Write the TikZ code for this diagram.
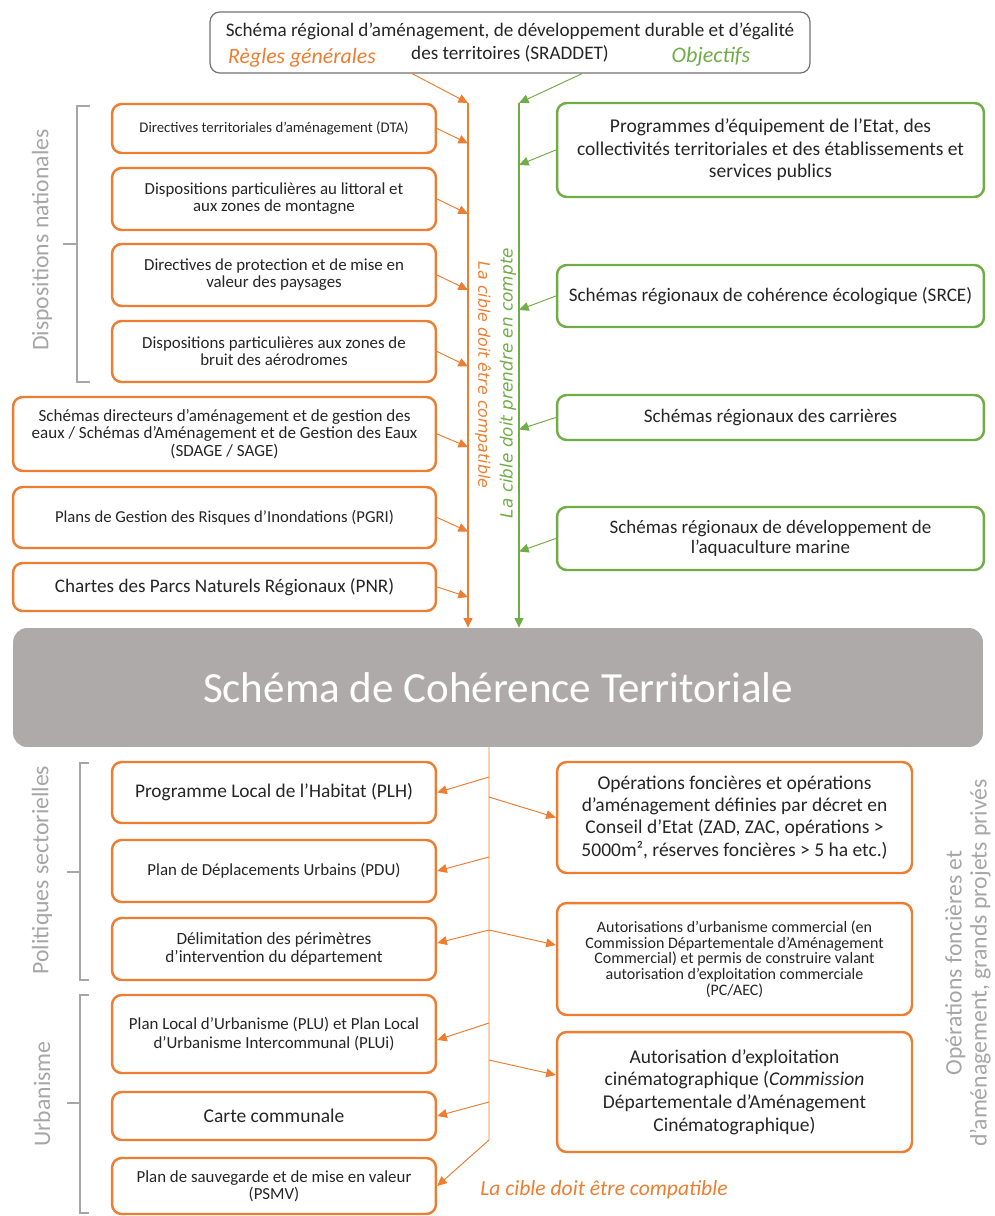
\documentclass[tikz,border=0pt]{standalone}
\usepackage{fontspec}
\setmainfont{Carlito}
\newfontfamily\largefont{DejaVu Sans}
\usetikzlibrary{arrows.meta,calc}

\definecolor{orangeS}{HTML}{ED7D31}
\definecolor{vertS}{HTML}{70AD47}
\definecolor{grisS}{HTML}{AEAAAA}
\definecolor{texteS}{HTML}{A6A6A6}

\tikzset{
  boite/.style={draw=orangeS, line width=1.4pt, rounded corners=5.5pt, fill=white,
    align=center, inner sep=1pt, text=black!85},
  boiteV/.style={boite, draw=vertS},
  fl/.style={line width=0.55pt, -{Triangle[length=5.5pt,width=5pt]}},
  axe/.style={line width=0.9pt, -{Triangle[length=5.5pt,width=5pt]}},
  accolade/.style={draw=texteS, line width=0.6pt},
  titre/.style={text=texteS, font=\fontsize{13.5}{14.2}\selectfont, align=center},
  fs/.style 2 args={font=\fontsize{#1}{#2}\selectfont}
}

\begin{document}
\begin{tikzpicture}[x=0.02cm, y=-0.02cm]

  \useasboundingbox (0,0) rectangle (994,1216);

  % SRADDET
  \node[boite, draw=black!55, line width=0.7pt, minimum width=12cm, minimum height=1.22cm,
        fs={10.9}{12.8}, inner sep=0pt] (sraddet) at (510,42.5)
        {Schéma régional d'aménagement, de développement durable et d'égalité\\des territoires (SRADDET)};
  \node[text=orangeS, font=\fontsize{12.4}{13}\itshape] (regles) at (302,58) {Règles générales};
  \node[text=vertS, font=\fontsize{12.6}{13}\itshape] (objectifs) at (711,57) {Objectifs};

  \coordinate (otop) at (468,103);
  \coordinate (vtop) at (519,103);

  % colonne gauche
  \node[boite, minimum width=6.48cm, minimum height=0.98cm, fs={8.4}{9.6}] (dta) at (274,128.5)
        {Directives territoriales d'aménagement (DTA)};
  \node[boite, minimum width=6.48cm, minimum height=1.24cm, fs={9.6}{9.6}] (lit) at (274,199)
        {Dispositions particulières au littoral et\\aux zones de montagne};
  \node[boite, minimum width=6.48cm, minimum height=1.24cm, fs={9.6}{9.6}] (dpp) at (274,275)
        {Directives de protection et de mise en\\valeur des paysages};
  \node[boite, minimum width=6.48cm, minimum height=1.22cm, fs={9.6}{9.6}] (bruit) at (274,351.5)
        {Dispositions particulières aux zones de\\bruit des aérodromes};
  \node[boite, minimum width=8.46cm, minimum height=1.48cm, fs={9.7}{9.9}] (sdage) at (224.5,434)
        {Schémas directeurs d'aménagement et de gestion des\\eaux / Schémas d'Aménagement et de Gestion des Eaux\\(SDAGE / SAGE)};
  \node[boite, minimum width=8.46cm, minimum height=1.22cm, fs={9.5}{10}] (pgri) at (224.5,517.5)
        {Plans de Gestion des Risques d'Inondations (PGRI)};
  \node[boite, minimum width=8.46cm, minimum height=0.96cm, fs={10.9}{12}] (pnr) at (224.5,587)
        {Chartes des Parcs Naturels Régionaux (PNR)};

  % colonne droite
  \node[boiteV, minimum width=8.54cm, minimum height=1.88cm, fs={11.1}{12.8}] (prog) at (770.5,150)
        {Programmes d'équipement de l'Etat, des\\collectivités territoriales et des établissements et\\services publics};
  \node[boiteV, minimum width=8.54cm, minimum height=1.24cm, fs={10.9}{12}] (srce) at (770.5,296)
        {Schémas régionaux de cohérence écologique (SRCE)};
  \node[boiteV, minimum width=8.54cm, minimum height=0.9cm, fs={10.9}{12}] (carr) at (770.5,417.5)
        {Schémas régionaux des carrières};
  \node[boiteV, minimum width=8.54cm, minimum height=1.26cm, fs={10.8}{11.3}] (aqua) at (770.5,538.5)
        {Schémas régionaux de développement de\\l'aquaculture marine};

  % SCoT
  \node[fill=grisS, rounded corners=8pt, minimum width=19.4cm, minimum height=2.38cm,
        text=white, font=\fontsize{24.5}{28}\selectfont] (scot) at (498,687.5)
        {Schéma de Cohérence Territoriale};

  \draw[axe, orangeS] (otop) -- (otop |- scot.north);
  \draw[axe, vertS] (vtop) -- (vtop |- scot.north);
  \draw[fl, orangeS] ($(sraddet.south west)!0.337!(sraddet.south east)$) -- (otop);
  \draw[fl, vertS] ($(sraddet.south west)!0.62!(sraddet.south east)$) -- (vtop);

  \draw[fl, orangeS] (dta.east) -- ($(dta.east -| otop)+(0,15)$);
  \draw[fl, orangeS] (lit.east) -- ($(lit.east -| otop)+(0,15)$);
  \draw[fl, orangeS] (dpp.east) -- ($(dpp.east -| otop)+(0,15)$);
  \draw[fl, orangeS] (bruit.east) -- ($(bruit.east -| otop)+(0,15)$);
  \draw[fl, orangeS] (sdage.east) -- ($(sdage.east -| otop)+(0,13)$);
  \draw[fl, orangeS] (pgri.east) -- ($(pgri.east -| otop)+(0,14)$);
  \draw[fl, orangeS] (pnr.east) -- ($(pnr.east -| otop)+(0,10)$);

  \draw[fl, vertS] (prog.west) -- ($(prog.west -| vtop)+(0,15)$);
  \draw[fl, vertS] (srce.west) -- ($(srce.west -| vtop)+(0,14)$);
  \draw[fl, vertS] (carr.west) -- ($(carr.west -| vtop)+(0,12)$);
  \draw[fl, vertS] (aqua.west) -- ($(aqua.west -| vtop)+(0,13)$);

  \node[rotate=-90, text=orangeS, font=\largefont\fontsize{9}{9}\itshape] (compat) at (483,375)
        {La cible doit être compatible};
  \node[rotate=90, text=vertS, font=\largefont\fontsize{9.6}{9}\itshape] (compte) at (508,383)
        {La cible doit prendre en compte};

  \draw[accolade] (90,106) -- (77,106) -- (77,382) -- (90,382);
  \draw[accolade] (77,244) -- (63,244);
  \node[titre, rotate=90] (nat) at (42,240) {Dispositions nationales};

  % partie basse
  \node[boite, minimum width=6.48cm, minimum height=1.22cm, fs={11}{12}] (plh) at (274,792.5)
        {Programme Local de l'Habitat (PLH)};
  \node[boite, minimum width=6.48cm, minimum height=1.24cm, fs={9.6}{10}] (pdu) at (274,871)
        {Plan de Déplacements Urbains (PDU)};
  \node[boite, minimum width=6.48cm, minimum height=1.24cm, fs={9.8}{10.4}] (delim) at (274,949)
        {Délimitation des périmètres\\d'intervention du département};
  \node[boite, minimum width=6.48cm, minimum height=1.56cm, fs={9.6}{10.4}] (plu) at (274,1034)
        {Plan Local d'Urbanisme (PLU) et Plan Local\\d'Urbanisme Intercommunal (PLUi)};
  \node[boite, minimum width=6.48cm, minimum height=0.96cm, fs={11.1}{12}] (carte) at (274,1116)
        {Carte communale};
  \node[boite, minimum width=6.48cm, minimum height=1.12cm, fs={9.6}{9.5}] (psmv) at (274,1186)
        {Plan de sauvegarde et de mise en valeur\\(PSMV)};

  \node[boite, minimum width=7.1cm, minimum height=2.22cm, fs={11.1}{12.6}] (ops) at (734.5,817.5)
        {Opérations foncières et opérations\\d'aménagement définies par décret en\\Conseil d'Etat (ZAD, ZAC, opérations >\\5000m², réserves foncières > 5 ha etc.)};
  \node[boite, minimum width=7.1cm, minimum height=2.24cm, fs={9.1}{8.9}] (auc) at (734.5,959)
        {Autorisations d'urbanisme commercial (en\\Commission Départementale d'Aménagement\\Commercial) et permis de construire valant\\autorisation d'exploitation commerciale\\(PC/AEC)};
  \node[boite, minimum width=7.1cm, minimum height=2.4cm, fs={11.1}{12.9}] (cine) at (734.5,1092)
        {Autorisation d'exploitation\\cinématographique (\textit{Commission}\\Départementale d'Aménagement\\Cinématographique)};

  \coordinate (obas) at (489,747);
  \coordinate (coude) at (489,1140);
  \draw[fl, orangeS] (obas) -- (coude) -- (psmv.east);

  \draw[fl, orangeS] (obas |- 0,777) -- (plh.east);
  \draw[fl, orangeS] (obas |- 0,797) -- (ops.west);
  \draw[fl, orangeS] (obas |- 0,857) -- (pdu.east);
  \draw[fl, orangeS] (obas |- 0,930) -- ($(delim.east)+(0,-6)$);
  \draw[fl, orangeS] (obas |- 0,930) -- ($(auc.west)+(0,-14)$);
  \draw[fl, orangeS] (obas |- 0,1023) -- ($(plu.east)+(0,6)$);
  \draw[fl, orangeS] (obas |- 0,1060) -- ($(cine.west)+(0,-17)$);
  \draw[fl, orangeS] (obas |- 0,1102) -- (carte.east);

  \node[text=orangeS, font=\fontsize{12.3}{13}\itshape] (compat2) at (604,1190)
        {La cible doit être compatible};

  \draw[accolade] (89,763) -- (80,763) -- (80,980) -- (89,980);
  \draw[accolade] (80,872) -- (67,872);
  \node[titre, rotate=90] (secto) at (42,870) {Politiques sectorielles};
  \draw[accolade] (89,995) -- (80,995) -- (80,1213) -- (89,1213);
  \draw[accolade] (80,1103) -- (67,1103);
  \node[titre, rotate=90] (urba) at (42,1094) {Urbanisme};

  \node[titre, rotate=90] (grands) at (968,963)
        {Opérations foncières et\\d'aménagement, grands projets privés};

\end{tikzpicture}
\end{document}
